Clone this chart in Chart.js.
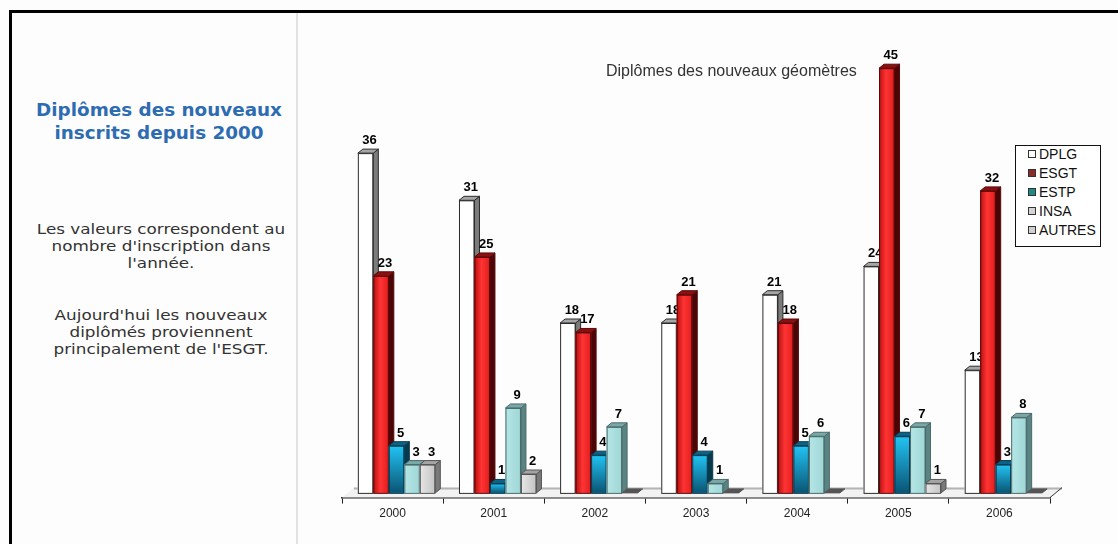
<!DOCTYPE html>
<html lang="fr">
<head>
<meta charset="utf-8">
<title>Diplômes des nouveaux géomètres</title>
<script src="https://cdn.jsdelivr.net/npm/chart.js@4"></script>
<style>
  body { margin: 0; width: 1118px; height: 544px; overflow: hidden; position: relative; background: #fdfdfd; font-family: "DejaVu Sans", Verdana, sans-serif; }
  #cadre { position: absolute; left: 9px; top: 10px; width: 1200px; height: 600px; border-left: 3px solid #000; border-top: 3px solid #000; }
  #separation { position: absolute; left: 296px; top: 13px; width: 2px; height: 531px; background: #e2e2e2; }
  .gauche { position: absolute; left: 18px; width: 282px; text-align: center; white-space: nowrap; }
  #titreGauche { top: 98px; font-weight: bold; font-size: 18px; line-height: 23px; color: #2e6cb2; transform: scaleX(1.02); }
  .texte { font-size: 14px; line-height: 17px; color: #333; transform: scaleX(1.2); }
  #texte1 { top: 221px; left: 20px; }
  #texte2 { top: 307px; left: 20px; }
  #graphique { position: absolute; left: 300px; top: 0; }
  #titreGraphique { position: absolute; left: 606px; top: 61px; font-family: "Liberation Sans", Arial, sans-serif; font-size: 16px; line-height: 20px; color: #333; white-space: nowrap; }
  #legende { position: absolute; left: 1015px; top: 145px; width: 84px; height: 100px; border: 1px solid #111; background: #fff; font-family: "Liberation Sans", Arial, sans-serif; font-size: 14px; color: #111; }
  .item { position: absolute; left: 12px; height: 19px; line-height: 19px; white-space: nowrap; }
  .carre { display: inline-block; width: 6px; height: 6px; border: 1px solid #333; margin-right: 3px; vertical-align: 1px; }
</style>
</head>
<body>
<div id="cadre"></div>
<div id="separation"></div>
<div id="titreGauche" class="gauche">Diplômes des nouveaux<br>inscrits depuis 2000</div>
<div id="texte1" class="gauche texte">Les valeurs correspondent au<br>nombre d'inscription dans<br>l'année.</div>
<div id="texte2" class="gauche texte">Aujourd'hui les nouveaux<br>diplômés proviennent<br>principalement de l'ESGT.</div>
<canvas id="graphique" width="818" height="544"></canvas>
<div id="titreGraphique">Diplômes des nouveaux géomètres</div>
<div id="legende"></div>
<script>
// données
const annees = ['2000', '2001', '2002', '2003', '2004', '2005', '2006'];
const series = ['DPLG', 'ESGT', 'ESTP', 'INSA', 'AUTRES'];
const dplg = [36, 31, 18, 18, 21, 24, 13];
const esgt = [23, 25, 17, 21, 18, 45, 32];
const estp = [5, 1, 4, 4, 5, 6, 3];
const insa = [3, 9, 7, 1, 6, 7, 8];
const autres = [3, 2, 0, 0, 0, 1, 0];
const valeurs = [dplg, esgt, estp, insa, autres];

// couleurs : face avant, côté, dessus, contour, légende
const faces = ['#ffffff', '#e82020', '#1aa6da', '#a9dede', '#d8d8d8'];
const cotes = ['#7c7c7c', '#4a0606', '#083a4e', '#5a8484', '#7a7a7a'];
const dessus = ['#a6a6a6', '#8c1010', '#0b6488', '#7aa8a8', '#a4a4a4'];
const contours = ['#2a2a2a', '#5a0a0a', '#0a3a4e', '#4a6a6a', '#555555'];
const couleursLegende = ['#ffffff', '#8c2a2a', '#1e8a88', '#d4d4d4', '#d0d0d0'];

const PROF_X = 5;    // profondeur 3D
const PROF_Y = 4;
const DECALAGE = 4;  // léger décalage des barres vers la droite

// légende en HTML
const legende = document.getElementById('legende');
series.forEach((nom, i) => {
  const item = document.createElement('div');
  item.className = 'item';
  item.style.top = (i * 19 - 1) + 'px';
  const carre = document.createElement('span');
  carre.className = 'carre';
  carre.style.background = couleursLegende[i];
  item.appendChild(carre);
  item.appendChild(document.createTextNode(nom));
  legende.appendChild(item);
});

function remplirFace(ctx, i, g, haut, l, h) {
  let fond = faces[i];
  if (i === 1) {
    fond = ctx.createLinearGradient(g, 0, g + l, 0);
    fond.addColorStop(0, '#b81010');
    fond.addColorStop(0.45, '#ff3434');
    fond.addColorStop(1, '#e01c1c');
  } else if (i === 2) {
    fond = ctx.createLinearGradient(0, haut, 0, haut + h);
    fond.addColorStop(0, '#22c4f4');
    fond.addColorStop(1, '#0a5474');
  } else if (i === 3) {
    fond = ctx.createLinearGradient(g, 0, g + l, 0);
    fond.addColorStop(0, '#b6e6e6');
    fond.addColorStop(1, '#9ed6d6');
  } else if (i === 4) {
    fond = ctx.createLinearGradient(g, 0, g + l, 0);
    fond.addColorStop(0, '#e6e6e6');
    fond.addColorStop(1, '#c4c4c4');
  }
  ctx.fillStyle = fond;
  ctx.fillRect(g, haut, l, h);
}

const effet3D = {
  id: 'effet3D',
  beforeDatasetsDraw(chart) {
    // sol en perspective
    const ctx = chart.ctx;
    const { left, right, bottom } = chart.chartArea;
    ctx.save();
    ctx.beginPath();
    ctx.moveTo(left, bottom);
    ctx.lineTo(right, bottom);
    ctx.lineTo(right + 12, bottom - 10);
    ctx.lineTo(left + 12, bottom - 10);
    ctx.closePath();
    ctx.fillStyle = '#f2f2f2';
    ctx.fill();
    ctx.strokeStyle = '#b4b4b4';
    ctx.lineWidth = 2;
    ctx.beginPath();
    ctx.moveTo(left + 12, bottom - 9);
    ctx.lineTo(right + 12, bottom - 9);
    ctx.stroke();
    ctx.strokeStyle = '#333';
    ctx.lineWidth = 1;
    ctx.beginPath();
    ctx.moveTo(right, bottom);
    ctx.lineTo(right + 12, bottom - 10);
    ctx.stroke();
    ctx.restore();
  },
  beforeDatasetDraw() {
    return false; // on dessine nous-mêmes, dans l'ordre des séries
  },
  afterDatasetsDraw(chart) {
    const ctx = chart.ctx;
    chart.data.datasets.forEach((ds, i) => {
      const meta = chart.getDatasetMeta(i);
      meta.data.forEach((barre, j) => {
        const { x, y, base, width } = barre.getProps(['x', 'y', 'base', 'width'], true);
        const g = x - width / 2 + DECALAGE;
        const d = g + width;
        const h = base - y;
        ctx.save();
        ctx.lineWidth = 1;
        ctx.strokeStyle = contours[i];
        if (h > 0.5) {
          // face avant
          ctx.save();
          ctx.translate(DECALAGE, 0);
          barre.draw(ctx);
          ctx.restore();
          remplirFace(ctx, i, g, y, width, h);
          ctx.strokeRect(g + 0.5, y + 0.5, width - 1, h);
          // côté
          ctx.beginPath();
          ctx.moveTo(d, y);
          ctx.lineTo(d + PROF_X, y - PROF_Y);
          ctx.lineTo(d + PROF_X, base - PROF_Y);
          ctx.lineTo(d, base);
          ctx.closePath();
          ctx.fillStyle = cotes[i];
          ctx.fill();
          ctx.stroke();
        }
        // dessus
        ctx.beginPath();
        ctx.moveTo(g, y);
        ctx.lineTo(g + PROF_X, y - PROF_Y);
        ctx.lineTo(d + PROF_X, y - PROF_Y);
        ctx.lineTo(d, y);
        ctx.closePath();
        ctx.fillStyle = h > 0.5 ? dessus[i] : '#555';
        ctx.fill();
        ctx.stroke();
        ctx.restore();
      });
      // étiquettes de valeur
      ctx.save();
      ctx.fillStyle = '#000';
      ctx.font = 'bold 13px "Liberation Sans", Arial, sans-serif';
      ctx.textAlign = 'center';
      ctx.textBaseline = 'alphabetic';
      meta.data.forEach((barre, j) => {
        const v = ds.data[j];
        if (!v) return;
        ctx.fillText(String(v), barre.x + DECALAGE + 4, barre.y - 9);
      });
      ctx.restore();
    });
  }
};

const ctx = document.getElementById('graphique').getContext('2d');
new Chart(ctx, {
  type: 'bar',
  data: {
    labels: annees,
    datasets: series.map((nom, i) => ({
      label: nom,
      data: valeurs[i],
      backgroundColor: faces[i],
      borderColor: contours[i],
      borderWidth: 0,
      categoryPercentage: 0.766,
      barPercentage: 1
    }))
  },
  options: {
    responsive: false,
    animation: false,
    layout: { padding: { left: 42, right: 68, top: 21, bottom: 20 } },
    plugins: {
      legend: { display: false },
      title: { display: false },
      tooltip: { enabled: false }
    },
    scales: {
      x: {
        grid: { display: true, drawOnChartArea: false, drawTicks: true, tickLength: 6, color: '#222', offset: true },
        border: { display: true, color: '#222', width: 1.5 },
        ticks: { color: '#222', padding: 3, font: { family: '"Liberation Sans", Arial, sans-serif', size: 12 } }
      },
      y: { display: false, min: -0.5, max: 50 }
    }
  },
  plugins: [effet3D]
});
</script>
</body>
</html>
